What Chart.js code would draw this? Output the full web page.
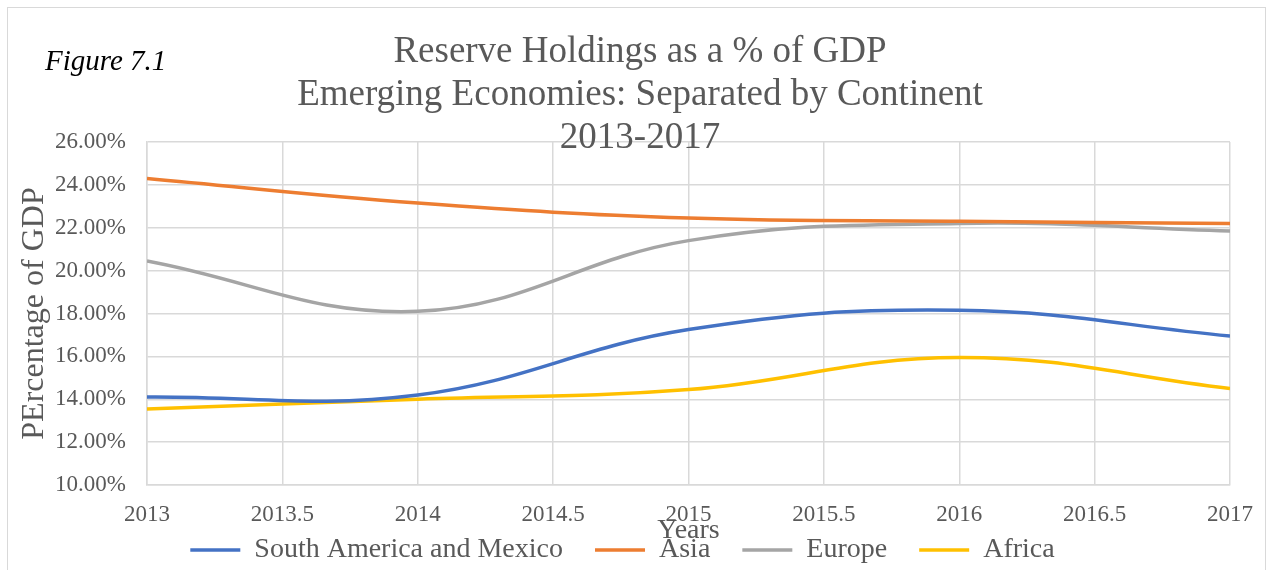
<!DOCTYPE html>
<html>
<head>
<meta charset="utf-8">
<script src="https://cdn.jsdelivr.net/npm/chart.js@4"></script>
<style>
  html, body { margin: 0; padding: 0; background: #fff; }
  #wrap { position: relative; width: 1269px; height: 570px; }
  #frame { position: absolute; left: 7px; top: 7px; width: 1259px; height: 570px; border: 1px solid #d9d9d9; box-sizing: border-box; }
  canvas { position: absolute; left: 0; top: 0; }
</style>
</head>
<body>
<div id="wrap">
  <div id="frame"></div>
  <canvas id="chart" width="1269" height="570"></canvas>
</div>
<script>
const years = [2013, 2014, 2015, 2016, 2017];
const southAmerica = [14.1, 14.2, 17.25, 18.15, 16.95];
const asia = [24.3, 23.15, 22.45, 22.3, 22.2];
const europe = [20.45, 18.1, 21.4, 22.2, 21.85];
const africa = [13.55, 14.0, 14.45, 15.95, 14.5];
const titleLines = ['Reserve Holdings as a % of GDP', 'Emerging Economies: Separated by Continent', '2013-2017'];

const serif = "'Liberation Serif', 'Times New Roman', serif";
const grey = '#595959';

function pts(vals) {
  return vals.map((v, i) => ({x: years[i], y: v}));
}

function series(label, vals, color) {
  return {
    label: label,
    data: pts(vals),
    borderColor: color,
    backgroundColor: color,
    borderWidth: 3.5,
    pointRadius: 0,
    tension: 0.4,
    fill: false
  };
}

// chart heading + figure tag
const headings = {
  id: 'headings',
  afterDraw(chart) {
    const c = chart.ctx;
    c.save();
    c.fillStyle = grey;
    c.textAlign = 'center';
    c.textBaseline = 'alphabetic';
    c.font = '37px ' + serif;
    const base = [62, 105, 148];
    titleLines.forEach((t, i) => c.fillText(t, 640, base[i]));
    c.fillStyle = '#000';
    c.textAlign = 'left';
    c.font = 'italic 29px ' + serif;
    c.fillText('Figure 7.1', 45, 70);
    c.restore();
  }
};

// keep the legend short in the layout, but draw its row lower down
const LEGEND_H = 33;
const legendShift = {
  id: 'legendShift',
  afterInit(chart) {
    const lg = chart.legend;
    const fit0 = lg.fit;
    lg.fit = function () { fit0.call(this); this.height = LEGEND_H; };
    const draw0 = lg.draw;
    lg.draw = function () {
      const t = this.top;
      this.top = 504;
      draw0.call(this);
      this.top = t;
    };
  }
};

new Chart(document.getElementById('chart').getContext('2d'), {
  type: 'line',
  data: {
    datasets: [
      series('South America and Mexico', southAmerica, '#4472c4'),
      series('Asia', asia, '#ed7d31'),
      series('Europe', europe, '#a5a5a5'),
      series('Africa', africa, '#ffc000')
    ]
  },
  options: {
    responsive: false,
    animation: false,
    layout: { padding: { left: 15, right: 39, top: 142, bottom: 0 } },
    scales: {
      x: {
        type: 'linear',
        min: 2013,
        max: 2017,
        afterFit: s => { s.height = 570 - LEGEND_H - 485; },
        grid: { color: '#d9d9d9', lineWidth: 1.5, drawTicks: false },
        border: { color: '#d9d9d9', width: 1.5 },
        ticks: {
          stepSize: 0.5,
          autoSkip: false,
          maxRotation: 0,
          padding: 16,
          color: grey,
          font: { family: serif, size: 23 },
          callback: v => String(v)
        },
        title: {
          display: true,
          text: 'Years',
          color: grey,
          font: { family: serif, size: 28 },
          padding: { top: 0, bottom: -10 }
        }
      },
      y: {
        min: 10,
        max: 26,
        afterFit: s => { s.width = 132; },
        grid: { color: '#d9d9d9', lineWidth: 1.5, drawTicks: false },
        border: { color: '#d9d9d9', width: 1.5 },
        ticks: {
          stepSize: 2,
          padding: 21,
          color: grey,
          font: { family: serif, size: 23 },
          callback: v => v.toFixed(2) + '%'
        },
        title: {
          display: true,
          text: 'PErcentage of GDP',
          color: grey,
          font: { family: serif, size: 32 },
          padding: { top: 0, bottom: 4 }
        }
      }
    },
    plugins: {
      title: { display: false },
      tooltip: { enabled: false },
      legend: {
        position: 'bottom',
        labels: {
          usePointStyle: true,
          pointStyle: 'line',
          pointStyleWidth: 50,
          padding: 32,
          color: grey,
          font: { family: serif, size: 28 }
        }
      }
    }
  },
  plugins: [headings, legendShift]
});
</script>
</body>
</html>
